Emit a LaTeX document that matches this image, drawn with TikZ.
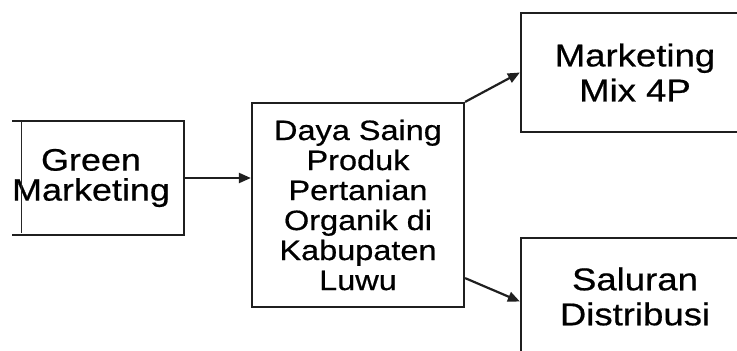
\documentclass[tikz,border=0pt]{standalone}
\usepackage{fontspec}
\newfontfamily\boxfont[FakeStretch=1.16,FakeBold=0.6]{Liberation Sans}
\usetikzlibrary{arrows.meta}
\begin{document}
\begin{tikzpicture}[x=1pt,y=-1pt,
  box/.style={draw=black!88, line width=2.2pt, inner sep=0pt, align=center, text=black},
  conn/.style={draw=black!88, line width=2.2pt, -{Triangle[length=12pt,width=10pt]}}]
\useasboundingbox (0,0) rectangle (737,351);
\node[box, minimum width=186pt, minimum height=114pt,
  font={\boxfont\fontsize{31}{30}\selectfont}] (green) at (91,178) {Green\\Marketing};
\node[box, minimum width=212pt, minimum height=204pt,
  font={\boxfont\fontsize{28}{30}\selectfont}] (mid) at (358,205)
  {Daya Saing\\Produk\\Pertanian\\Organik di\\Kabupaten\\Luwu};
\node[box, minimum width=228pt, minimum height=119pt,
  font={\boxfont\fontsize{31.5}{35}\selectfont}] (mix) at (635,72.5) {Marketing\\Mix 4P};
\node[box, minimum width=228pt, minimum height=117pt,
  font={\boxfont\fontsize{31.5}{35}\selectfont}] (dist) at (635,296.5) {Saluran\\Distribusi};
\fill[white] (0,110) rectangle (12,245);
\coordinate (edgetop) at (21,121);
\coordinate (edgebot) at (21,233);
\draw[line width=0.8pt, black!85] (edgetop) -- (edgebot);
\draw[conn] (green.east) -- (mid.west |- green.east);
\draw[conn] (mid.north east) -- (mix.west);
\draw[conn] ([yshift=30pt]mid.south east) -- ([yshift=-5pt]dist.west);
\end{tikzpicture}
\end{document}
